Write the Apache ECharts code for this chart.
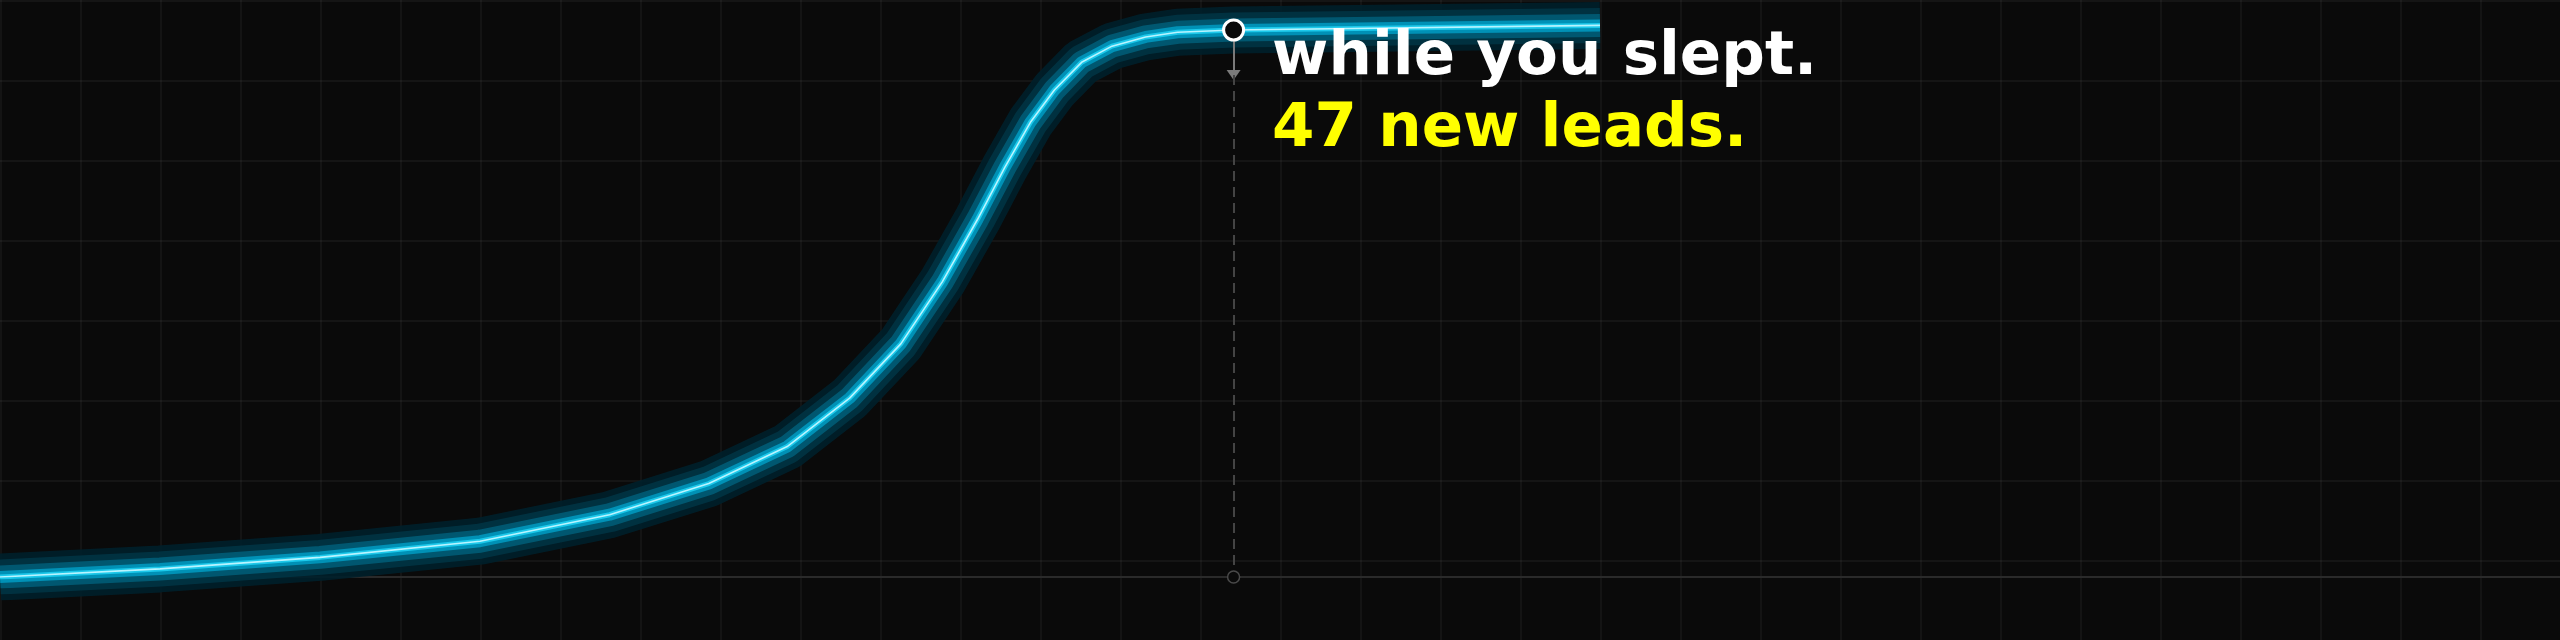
<!DOCTYPE html>
<html>
<head>
<meta charset="utf-8">
<script src="https://cdn.jsdelivr.net/npm/echarts@6/dist/echarts.min.js"></script>
<style>
  html, body { margin: 0; padding: 0; width: 2560px; height: 640px; overflow: hidden; }
  body {
    background-color: #0a0a0a;
    background-image:
      linear-gradient(to bottom, rgba(255,255,255,0.045) 2px, transparent 2px),
      linear-gradient(to right, rgba(255,255,255,0.04) 2px, transparent 2px);
    background-size: 80px 80px;
    background-position: 0 0;
  }
  #chart { width: 2560px; height: 640px; }
</style>
</head>
<body>
<div id="chart"></div>
<script>
// Hours since going to sleep (x) and cumulative leads (y)
var hours = [0, 1, 2, 3, 3.81, 4.43, 4.92, 5.31, 5.63, 5.89, 6.11, 6.28, 6.44, 6.59, 6.76, 6.95, 7.16, 7.36, 7.71, 10];
var leads = [0, 0.7, 1.7, 3.1, 5.4, 8.1, 11.3, 15.5, 20.2, 25.6, 31.0, 35.5, 39.4, 42.2, 44.6, 46.0, 46.8, 47.2, 47.4, 47.8];
var markerHour = 7.71;
var markerLeads = 47.4;
var arrowLeads = 43.5;
var headline = 'while you slept.';
var subline = '47 new leads.';

var points = hours.map(function (h, i) { return [h, leads[i]]; });

var glowLayers = [
  { width: 47, color: 'rgba(0, 32, 42, 0.92)' },
  { width: 35, color: 'rgba(0, 52, 68, 0.9)' },
  { width: 23, color: 'rgba(0, 92, 118, 0.9)' },
  { width: 12, color: 'rgba(0, 150, 188, 0.92)' },
  { width: 5,  color: '#1cc8ea' },
  { width: 1.6, color: '#b8f4ff' }
];

var series = glowLayers.map(function (g, i) {
  return {
    type: 'line',
    data: points,
    showSymbol: false,
    symbol: 'none',
    z: 2 + i,
    silent: true,
    lineStyle: { width: g.width, color: g.color, cap: 'butt', join: 'bevel' }
  };
});

// guide lines from the marker down to the axis
series.push({
  type: 'line',
  data: [],
  z: 8,
  silent: true,
  markLine: {
    silent: true,
    animation: false,
    label: { show: false },
    emphasis: { disabled: true },
    data: [
      [
        { coord: [markerHour, markerLeads], symbol: 'none', lineStyle: { color: '#7a7a7a', width: 2, type: 'solid' } },
        { coord: [markerHour, arrowLeads], symbol: 'triangle', symbolSize: [14, 10] }
      ],
      [
        { coord: [markerHour, arrowLeads], symbol: 'none', lineStyle: { color: '#444444', width: 2, type: [10, 6] } },
        { coord: [markerHour, 0], symbol: 'none' }
      ]
    ]
  }
});

// bottom hollow circle on axis
series.push({
  type: 'scatter',
  data: [[markerHour, 0]],
  z: 9,
  silent: true,
  symbol: 'circle',
  symbolSize: 12,
  itemStyle: { color: '#0a0a0a', borderColor: '#4a4a4a', borderWidth: 1.5, opacity: 1 }
});

// highlighted marker with caption
series.push({
  type: 'scatter',
  data: [[markerHour, markerLeads]],
  z: 10,
  silent: true,
  symbol: 'circle',
  symbolSize: 20,
  itemStyle: { color: '#0a0a0a', borderColor: '#ffffff', borderWidth: 3, opacity: 1 },
  label: {
    show: true,
    position: [50, 4],
    align: 'left',
    verticalAlign: 'top',
    formatter: '{a|' + headline + '}\n{b|' + subline + '}',
    rich: {
      a: { color: '#ffffff', fontFamily: 'DejaVu Sans', fontWeight: 'bold', fontSize: 61, lineHeight: 72 },
      b: { color: '#ffff00', fontFamily: 'DejaVu Sans', fontWeight: 'bold', fontSize: 61, lineHeight: 72 }
    }
  }
});

var chart = echarts.init(document.getElementById('chart'), null, { renderer: 'canvas' });
chart.setOption({
  backgroundColor: 'transparent',
  animation: false,
  grid: { left: 0, right: 0, top: 0, bottom: 63, containLabel: false },
  xAxis: {
    type: 'value',
    min: 0,
    max: 16,
    axisLine: { show: true, lineStyle: { color: '#2a2a2a', width: 2 } },
    axisTick: { show: false },
    axisLabel: { show: false },
    splitLine: { show: false }
  },
  yAxis: {
    type: 'value',
    min: 0,
    max: 50,
    show: false,
    splitLine: { show: false }
  },
  series: series
});
</script>
</body>
</html>
